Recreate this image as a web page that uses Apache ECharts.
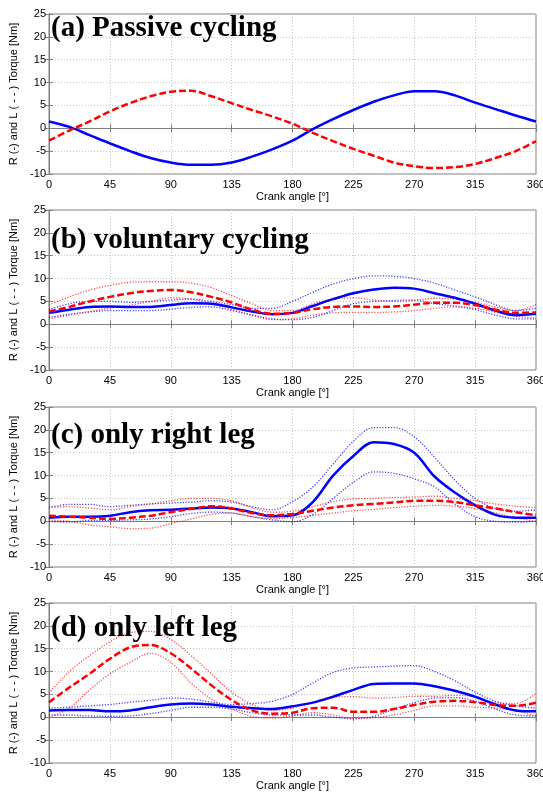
<!DOCTYPE html>
<html><head><meta charset="utf-8">
<script src="https://cdn.jsdelivr.net/npm/echarts@6/dist/echarts.min.js"></script>
<style>html,body{margin:0;padding:0;background:#fff;overflow:hidden}#c{width:543px;height:792px}</style>
</head><body><div id="c"></div>
<script>
const angles = [0,15,30,45,60,75,90,105,120,135,150,165,180,195,210,225,240,255,270,285,300,315,330,345,360];
const xTicks = [0,45,90,135,180,225,270,315,360];
const yTicks = [-10,-5,0,5,10,15,20,25];
const titles = ['(a) Passive cycling','(b) voluntary cycling','(c) only right leg','(d) only left leg'];

// (a) passive
const aRight = [1.5,0.3,-1.5,-3.3,-5,-6.5,-7.5,-8,-8,-7.5,-6.2,-4.6,-2.7,-0.2,2,4,5.8,7.2,8.1,8.1,7.2,5.6,4.2,2.8,1.5];
const aLeft  = [-2.7,-0.5,1.5,3.7,5.5,7,8,8.2,7,5.5,4,2.6,1,-1,-2.8,-4.5,-6,-7.5,-8.3,-8.7,-8.5,-7.8,-6.5,-5,-2.8];

// (b) voluntary
const bRight   = [2.5,3.2,3.8,3.9,3.8,3.8,4.2,4.6,4.5,3.7,2.8,2.2,2.5,4,5.5,6.8,7.6,8,7.8,6.8,5.8,4.5,3,2,2.3];
const bRightHi = [3.2,4.5,5,5,4.8,5,5.3,5.5,5,4.3,3.5,3.5,5,7,8.8,10,10.6,10.5,10,9,7.5,6,4.3,3,3.5];
const bRightLo = [1.5,2.2,2.7,3,3,3,3.3,3.7,3.8,3,2,1.2,1,1.5,3,4.5,5,5.2,5.3,4.5,4,3.2,2,1.2,1.2];
const bLeft    = [2.8,3.8,5,6,6.8,7.3,7.5,7,6,4.8,3.2,2.3,2.5,3.3,3.8,3.9,3.8,3.9,4.3,4.7,4.7,4.2,3.2,2.5,2.6];
const bLeftHi  = [4.3,6,7.5,8.5,9.2,9.3,9.3,9,8,6.3,4.5,3,3,4.5,5.5,5.8,5.3,5,5.2,5.7,5.5,4.8,3.8,3,4.3];
const bLeftLo  = [1.2,2,2.8,3.5,4.2,5,5.8,5.5,4.5,3.3,2,1,1.2,2,2.5,2.6,2.6,2.7,3,3.5,3.8,3.5,2.6,1.8,1.3];

// (c) only right leg
const cRight   = [0.8,1,1,1.2,2,2.4,2.5,2.8,3,2.8,2,1.1,1.3,4.2,10,14.3,17.3,16.9,15,9.8,6.3,3.5,1.4,0.8,0.8];
const cRightHi = [3,3.7,3.7,3.2,3.5,3.8,4,4.2,4.5,4.2,3.2,2.5,4.3,7.5,12.5,17.5,20.5,20.5,18.5,14,9,5,2.8,2.2,2.5];
const cRightLo = [0,-0.2,0.2,0.2,0.3,0.5,1,1.7,2,1.8,1,0.3,-0.1,1.5,5,8.5,10.8,10.5,9.3,7.5,3.8,1,0,-0.2,0];
const cLeft    = [1.2,1,0.8,0.5,0.8,1.2,2,2.7,3.3,2.8,1.8,1.3,1.6,2.3,3,3.5,3.8,4.1,4.5,4.5,4.2,3.5,2.8,2,1.3];
const cLeftHi  = [3,3.2,2.9,2.5,3.2,3.8,4.5,5,5,4.5,3,2,2.2,3.2,4.3,4.9,5,5.2,5.3,5.5,5,4.5,3.8,3.3,3];
const cLeftLo  = [0.3,0,-0.8,-1.2,-1.6,-1.5,-0.5,0.5,1.5,1.8,1,0.6,0.8,1.3,1.8,2.3,2.6,3,3.3,3.5,3.3,2.8,1.8,0.8,0];

// (d) only left leg
const dRight   = [1.5,1.6,1.6,1.3,1.5,2.2,2.8,3,2.8,2.3,2,1.8,2.4,3.2,4.5,6,7.3,7.4,7.4,6.8,5.8,4.5,2.8,1.5,1.3];
const dRightHi = [2,2.2,2.5,2.8,3.3,3.7,4.2,4,3.3,2.8,3,3.5,5,7.5,9.8,10.8,11,11.2,11.3,10,8,5.5,3.5,2.5,2];
const dRightLo = [0.5,0.5,0.3,0.2,0.3,0.8,1.5,2.2,2.2,1.8,1,0.5,0.5,0.5,0,-0.3,0.2,1.8,3.2,4.2,4.3,3.5,1.8,0.5,0.3];
const dLeft    = [3.3,6.5,9.5,12.8,15.3,15.8,14,10.7,7,3.8,1.5,0.8,1,2,2.1,1.2,1.2,1.8,2.7,3.4,3.6,3.3,2.7,2.5,3.2];
const dLeftHi  = [5.3,10,13.5,16.5,18.5,18.8,17,13.5,9.5,5.5,2.8,1.5,2,3.3,4.5,4.5,4.2,4.3,4.6,4.6,4.8,4.5,3.2,3,5.2];
const dLeftLo  = [0,2,6,9.5,12,14,12,7.5,4,1.8,0.2,-0.2,0.3,1,0.5,-0.3,-0.1,0.5,1.5,2.5,2.5,2.2,2,1.5,0.2];

const panels = [
  {right:aRight, left:aLeft},
  {right:bRight, rightHi:bRightHi, rightLo:bRightLo, left:bLeft, leftHi:bLeftHi, leftLo:bLeftLo},
  {right:cRight, rightHi:cRightHi, rightLo:cRightLo, left:cLeft, leftHi:cLeftHi, leftLo:cLeftLo},
  {right:dRight, rightHi:dRightHi, rightLo:dRightLo, left:dLeft, leftHi:dLeftHi, leftLo:dLeftLo}
];

const tops = [14,210,407,603];
const titleY = [14,226,421,614];
const BLUE = '#0000ff', RED = '#ff0000';
const AX = '#7f7f7f';
const FONT = 'Liberation Sans';

const grid = [], xAxis = [], yAxis = [], series = [], graphic = [];
const pairs = arr => angles.map((a,i)=>[a, arr[i]]);

panels.forEach((p, i) => {
  grid.push({left:49, right:7, top:tops[i], height:160, show:true, borderColor:AX, borderWidth:1,
    backgroundColor:'transparent', containLabel:false, outerBoundsMode:'none'});
  xAxis.push({
    gridIndex:i, type:'value', min:0, max:360, interval:45,
    name:'Crank angle [°]', nameLocation:'middle', nameGap:17,
    nameTextStyle:{fontSize:11, color:'#000', fontFamily:FONT},
    axisLine:{show:true, lineStyle:{color:AX, width:1}},
    axisTick:{show:true, inside:true, length:4, lineStyle:{color:AX}},
    axisLabel:{fontSize:11, color:'#000', fontFamily:FONT, margin:5, showMaxLabel:true, showMinLabel:true, hideOverlap:false},
    splitLine:{show:true, lineStyle:{color:'#c4c4c4', type:[1,2], width:1}}
  });
  xAxis.push({
    gridIndex:i, type:'value', min:0, max:360, interval:45, position:'top',
    axisLine:{show:true, lineStyle:{color:AX}},
    axisTick:{show:true, inside:true, length:4, lineStyle:{color:AX}},
    axisLabel:{show:false}, splitLine:{show:false}
  });
  yAxis.push({
    gridIndex:i, type:'value', min:-10, max:25, interval:5,
    name:'R (-) and L ( - - ) Torque [Nm]', nameLocation:'middle', nameGap:24,
    nameTextStyle:{fontSize:11, color:'#000', fontFamily:FONT},
    axisLine:{show:true, lineStyle:{color:AX, width:1}},
    axisTick:{show:true, inside:true, length:4, lineStyle:{color:AX}},
    axisLabel:{fontSize:11, color:'#000', fontFamily:FONT, margin:3},
    splitLine:{show:true, lineStyle:{color:'#c4c4c4', type:[1,2], width:1}}
  });
  yAxis.push({
    gridIndex:i, type:'value', min:-10, max:25, interval:5, position:'right',
    axisLine:{show:true, lineStyle:{color:AX}},
    axisTick:{show:true, inside:true, length:4, lineStyle:{color:AX}},
    axisLabel:{show:false}, splitLine:{show:false}
  });
  const xi = i*2, yi = i*2;
  const addLine = (arr, color, type, width, z, op) => {
    series.push({type:'line', xAxisIndex:xi, yAxisIndex:yi, data:pairs(arr), showSymbol:false, symbol:'none',
      smooth:0.35, z:z, silent:true, animation:false,
      lineStyle:{color:color, type:type, width:width, opacity:op}});
  };
  if (p.rightHi) {
    addLine(p.rightHi, BLUE, [1.2,1.6], 1.3, 2, 0.75);
    addLine(p.rightLo, BLUE, [1.2,1.6], 1.3, 2, 0.75);
    addLine(p.leftHi, RED, [1.2,1.6], 1.3, 2, 0.7);
    addLine(p.leftLo, RED, [1.2,1.6], 1.3, 2, 0.7);
  }
  addLine(p.right, BLUE, 'solid', 2.5, 4, 1);
  addLine(p.left, RED, [7,3], 2.5, 5, 1);
  graphic.push({type:'text', left:51, top:titleY[i], z:100,
    style:{text:titles[i], font:'bold 29px "Liberation Serif"', fill:'#000'}});
});

const chart = echarts.init(document.getElementById('c'), null, {renderer:'canvas'});
chart.setOption({animation:false, backgroundColor:'#fff', grid, xAxis, yAxis, series, graphic});
</script>
</body></html>
